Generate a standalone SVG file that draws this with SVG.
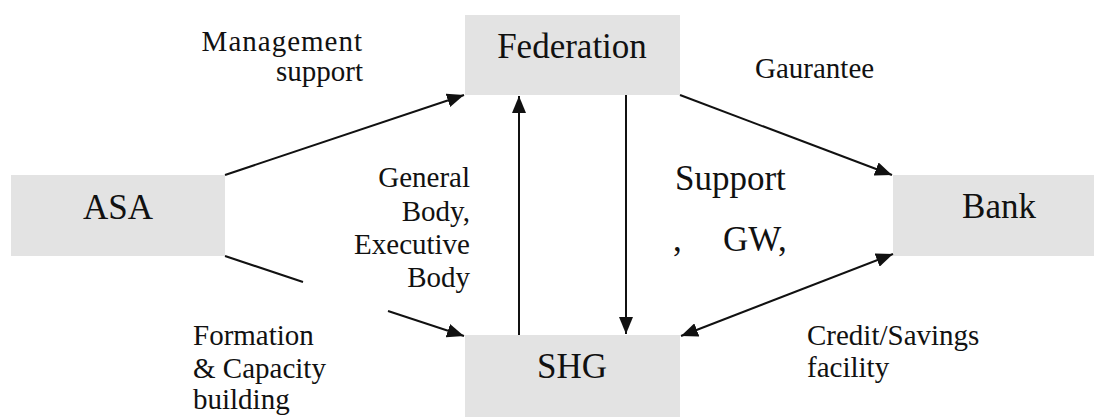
<svg xmlns="http://www.w3.org/2000/svg" width="1094" height="418" viewBox="0 0 1094 418">
<style>
.box{fill:#e3e3e3;stroke:none}
.big{font-size:35px;fill:#111}
.lbl{font-size:29px;fill:#111}
.ln{stroke:#111;stroke-width:2;fill:none}
</style>
<defs>
<marker id="ah" markerUnits="userSpaceOnUse" markerWidth="18" markerHeight="14" refX="17" refY="7" orient="auto-start-reverse">
<path d="M0,0 L17,7 L0,14 Z" fill="#111"/>
</marker>
</defs>
<rect width="1094" height="418" fill="#fff"/>
<g font-family="'Liberation Serif', 'Times New Roman', serif">
<g id="asa"><rect class="box" x="11" y="175" width="214" height="81"/><text class="big" x="118" y="219" text-anchor="middle">ASA</text></g>
<g id="federation"><rect class="box" x="465" y="15" width="215" height="80"/><text class="big" x="572" y="58" text-anchor="middle">Federation</text></g>
<g id="bank"><rect class="box" x="893" y="175" width="201" height="81"/><text class="big" x="999" y="218" text-anchor="middle">Bank</text></g>
<g id="shg"><rect class="box" x="465" y="335" width="215" height="82"/><text class="big" x="572" y="378" text-anchor="middle">SHG</text></g>
<g id="connectors">
<line class="ln" x1="225" y1="175" x2="464" y2="95" marker-end="url(#ah)"/>
<line class="ln" x1="225" y1="256" x2="303" y2="282"/>
<line class="ln" x1="388" y1="311" x2="464" y2="336" marker-end="url(#ah)"/>
<line class="ln" x1="519" y1="335" x2="519" y2="96" marker-end="url(#ah)"/>
<line class="ln" x1="626" y1="95" x2="626" y2="334" marker-end="url(#ah)"/>
<line class="ln" x1="680" y1="95" x2="892" y2="175" marker-end="url(#ah)"/>
<line class="ln" x1="681" y1="336" x2="893" y2="254" marker-start="url(#ah)" marker-end="url(#ah)"/>
</g>
<g id="labels">
<text class="lbl" x="363" y="51" text-anchor="end" letter-spacing="1">Management</text>
<text class="lbl" x="363" y="81" text-anchor="end">support</text>
<text class="lbl" x="755" y="78">Gaurantee</text>
<text class="lbl" x="470" y="187" text-anchor="end">General</text>
<text class="lbl" x="470" y="221" text-anchor="end">Body,</text>
<text class="lbl" x="470" y="254" text-anchor="end">Executive</text>
<text class="lbl" x="470" y="287" text-anchor="end">Body</text>
<text class="big" x="675" y="190">Support</text>
<text class="big" y="251"><tspan x="673">,</tspan><tspan x="723">GW,</tspan></text>
<text class="lbl" x="193" y="345">Formation</text>
<text class="lbl" x="193" y="378">&amp; Capacity</text>
<text class="lbl" x="193" y="409">building</text>
<text class="lbl" x="807" y="345">Credit/Savings</text>
<text class="lbl" x="807" y="377">facility</text>
</g>
</g>
</svg>
